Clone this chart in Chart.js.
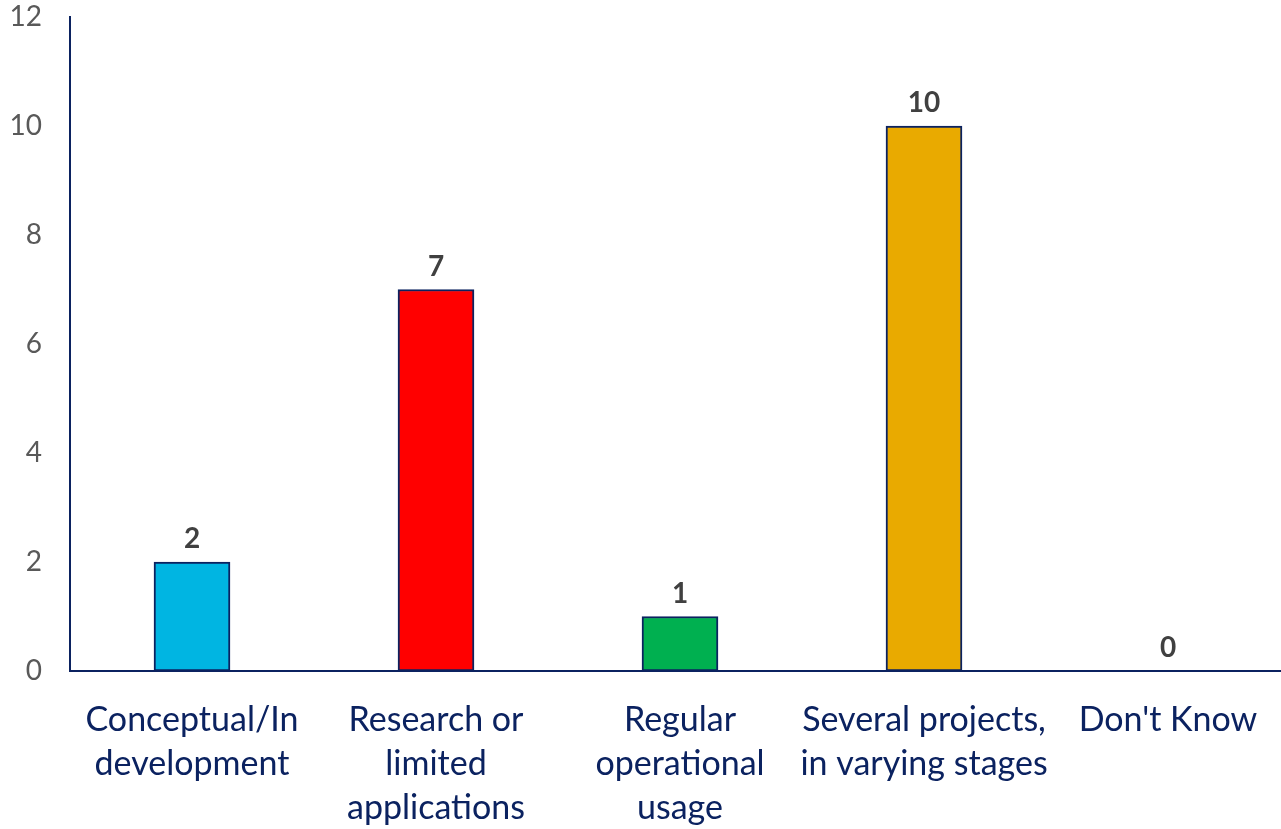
<!DOCTYPE html>
<html>
<head>
<meta charset="utf-8">
<script src="https://cdn.jsdelivr.net/npm/chart.js@4/dist/chart.umd.min.js"></script>
<style>
  html, body { margin: 0; padding: 0; background: #fff; overflow: hidden; }
  #wrap { width: 1290px; height: 829px; }
</style>
</head>
<body>
<div id="wrap"><canvas id="grafico"></canvas></div>
<script>
// dados
const categorias = [
  ["Conceptual/In", "development"],
  ["Research or", "limited", "applications"],
  ["Regular", "operational", "usage"],
  ["Several projects,", "in varying stages"],
  ["Don't Know"]
];
const respostas = [2, 7, 1, 10, 0];
const coresBarras = ["#00B5E2", "#FF0000", "#00B050", "#E9AA00", "#7F7F7F"];
const ticksY = [0, 2, 4, 6, 8, 10, 12];

const azulEscuro = "#0B2260";
const fonte = "Lato, 'Open Sans', sans-serif";

// rótulos de valor acima das barras
const rotulosValor = {
  id: "rotulosValor",
  afterDatasetsDraw(chart) {
    const ctx = chart.ctx;
    const meta = chart.getDatasetMeta(0);
    ctx.save();
    ctx.font = "bold 28px " + fonte;
    ctx.fillStyle = "#404040";
    ctx.textAlign = "center";
    ctx.textBaseline = "bottom";
    meta.data.forEach((bar, i) => {
      ctx.fillText(respostas[i], bar.x, bar.y - 9);
    });
    ctx.restore();
  }
};

new Chart(document.getElementById("grafico").getContext("2d"), {
  type: "bar",
  data: {
    labels: categorias,
    datasets: [{
      data: respostas,
      backgroundColor: coresBarras,
      borderColor: azulEscuro,
      borderWidth: 2,
      borderSkipped: false,
      barThickness: 76
    }]
  },
  options: {
    responsive: true,
    maintainAspectRatio: false,
    animation: false,
    layout: { padding: { top: 17, right: 0, left: 0, bottom: 0 } },
    plugins: { legend: { display: false }, tooltip: { enabled: false } },
    scales: {
      x: {
        grid: { display: false, drawTicks: false },
        border: { color: azulEscuro, width: 2 },
        ticks: {
          color: azulEscuro,
          padding: 27,
          maxRotation: 0,
          autoSkip: false,
          font: { family: fonte, size: 34, lineHeight: 1.3 }
        },
        afterFit(scale) { scale.height = 158; }
      },
      y: {
        min: 0,
        max: 12,
        afterBuildTicks(scale) { scale.ticks = ticksY.map(v => ({ value: v })); },
        grid: { display: false, drawTicks: false },
        border: { color: azulEscuro, width: 2 },
        ticks: {
          color: "#595959",
          padding: 28,
          font: { family: fonte, size: 28 }
        },
        afterFit(scale) {
          scale.width = 70;
          // o padding dos ticks não deve empurrar a área do gráfico
          scale.paddingTop = 0;
          scale.paddingBottom = 0;
        }
      }
    }
  },
  plugins: [rotulosValor]
});
</script>
</body>
</html>
